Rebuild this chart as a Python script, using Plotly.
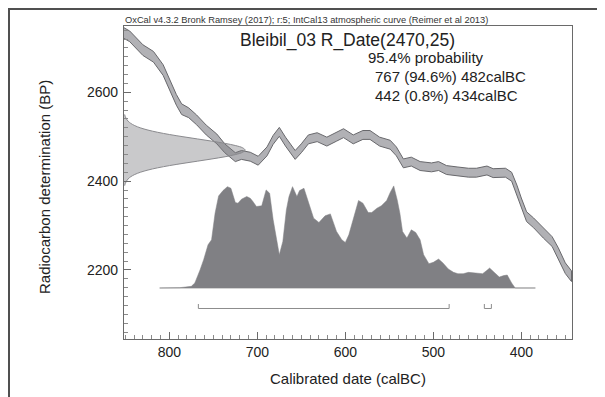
import plotly.graph_objects as go

# ---- data ----
# IntCal13 calibration curve (calBC, BP centre, 1-sigma)
cal_bc = [852, 845, 830, 818, 807, 799, 792, 786, 778, 769, 758, 746, 737, 725, 718, 708, 699, 689, 682, 675,
          668, 657, 650, 642, 632, 621, 610, 602, 591, 580, 572, 561, 549, 542, 534, 525, 515, 502, 494, 485,
          473, 460, 451, 439, 432, 418, 411, 405, 400, 394, 386, 375, 365, 358, 350, 343]
cal_bp = [2734, 2726, 2695, 2680, 2650, 2616, 2583, 2562, 2554, 2538, 2515, 2495, 2474, 2454, 2459, 2455, 2446, 2467, 2493, 2511,
          2489, 2459, 2474, 2494, 2499, 2489, 2500, 2508, 2494, 2504, 2504, 2489, 2482, 2467, 2440, 2444, 2434, 2431, 2434, 2425,
          2422, 2419, 2419, 2424, 2418, 2419, 2410, 2380, 2351, 2320, 2306, 2283, 2264, 2238, 2204, 2186]
cal_err = [12, 12, 12, 12, 12, 12, 12, 12, 11, 11, 11, 11, 10, 10, 10, 10, 10, 10, 10, 10,
           10, 10, 10, 10, 10, 10, 10, 10, 10, 10, 10, 10, 10, 10, 10, 10, 10, 10, 10, 10,
           10, 10, 10, 10, 10, 10, 10, 11, 11, 11, 11, 11, 11, 12, 12, 12]

# Radiocarbon measurement R_Date(2470,25): BP and relative density
meas_bp = [2390, 2395, 2400, 2405, 2410, 2415, 2420, 2425, 2430, 2435, 2440, 2445, 2450, 2455, 2460, 2465, 2470,
           2475, 2480, 2485, 2490, 2495, 2500, 2505, 2510, 2515, 2520, 2525, 2530, 2535, 2540, 2545, 2550]
meas_p = [0.006, 0.011, 0.020, 0.034, 0.056, 0.089, 0.135, 0.198, 0.278, 0.375, 0.487, 0.607, 0.726, 0.835, 0.923, 0.980, 1.0,
          0.980, 0.923, 0.835, 0.726, 0.607, 0.487, 0.375, 0.278, 0.198, 0.135, 0.089, 0.056, 0.034, 0.020, 0.011, 0.006]

# Calibrated probability distribution (calBC, relative probability)
dist_bc = [811, 788, 775, 771, 765, 761, 756, 752, 748, 744, 739, 734, 730, 725, 722, 718, 712, 708, 705, 701,
           695, 690, 686, 682, 678, 675, 671, 667, 664, 660, 655, 652, 647, 642, 636, 630, 623, 617, 614, 610,
           604, 600, 596, 590, 585, 580, 574, 570, 564, 559, 553, 549, 545, 541, 538, 535, 530, 525, 520, 515,
           511, 505, 500, 494, 489, 483, 477, 472, 466, 460, 455, 449, 444, 439, 436, 430, 425, 420, 416, 411,
           407, 384]
dist_p = [0, .003, .016, .049, .179, .277, .423, .472, .733, .902, .954, .993, .977, .837, .831, .870, .896, .879, .847, .798,
          .805, .961, .928, .668, .472, .326, .456, .765, .896, .993, .896, .954, .977, .847, .684, .642, .707, .726, .651, .554,
          .472, .446, .521, .700, .857, .831, .739, .739, .782, .805, .857, .935, 1.0, .863, .733, .554, .489, .570, .544, .472,
          .326, .238, .251, .283, .244, .186, .153, .140, .140, .153, .147, .147, .140, .173, .195, .147, .107, .121, .127, .049,
          0, 0]

# 95.4% ranges (from, to calBC)
range_from = [767, 442]
range_to = [482, 434]

header = "OxCal v4.3.2 Bronk Ramsey (2017); r:5; IntCal13 atmospheric curve (Reimer et al 2013)"
title = "Bleibil_03 R_Date(2470,25)"
prob_lines = ["95.4% probability", "767 (94.6%) 482calBC", "442 (0.8%) 434calBC"]

x_ticks = [800, 700, 600, 500, 400]
y_ticks = [2200, 2400, 2600]

# ---- figure ----
FONT = "Liberation Sans, Arial, sans-serif"
fig = go.Figure()

# calibration band
upper = [c + e for c, e in zip(cal_bp, cal_err)]
lower = [c - e for c, e in zip(cal_bp, cal_err)]
fig.add_trace(go.Scatter(
    x=cal_bc + cal_bc[::-1], y=upper + lower[::-1],
    fill="toself", fillcolor="rgba(100,100,108,0.5)",
    line=dict(color="#68686c", width=1), mode="lines",
    hoverinfo="skip", showlegend=False))

# measurement gaussian on y axis
fig.add_trace(go.Scatter(
    x=meas_p, y=meas_bp, xaxis="x2", yaxis="y",
    fill="tozerox", fillcolor="rgba(120,120,125,0.4)",
    line=dict(color="#8a8a8e", width=1, shape="spline"), mode="lines",
    hoverinfo="skip", showlegend=False))

# calibrated distribution
fig.add_trace(go.Scatter(
    x=[dist_bc[0], dist_bc[-1]], y=[0, 0], xaxis="x", yaxis="y2",
    mode="lines", line=dict(color="#c4c4c4", width=1.5),
    hoverinfo="skip", showlegend=False))
fig.add_trace(go.Scatter(
    x=dist_bc, y=dist_p, xaxis="x", yaxis="y2",
    fill="tozeroy", fillcolor="#808084",
    line=dict(color="#808084", width=0.5), mode="lines",
    hoverinfo="skip", showlegend=False))

# range brackets
lvl, tick_top = -0.201, -0.157
for a, b in zip(range_from, range_to):
    fig.add_trace(go.Scatter(
        x=[a, a, b, b], y=[tick_top, lvl, lvl, tick_top], xaxis="x", yaxis="y2",
        mode="lines", line=dict(color="#8c8c8c", width=1),
        hoverinfo="skip", showlegend=False))

# page body has an 8px margin: figure is drawn 8px right/down of the screen origin
OFF = 8
FIG_W, FIG_H = 605 - OFF, 397 - OFF
L, T, W, H = 124, 26, 448, 313  # plot area in screen pixels

def px(xp):
    return (xp - L) / W

def py(yp):
    return (T + H - yp) / H

Y_RANGE = [2044.6, 2749.3]

fig.update_layout(
    width=FIG_W, height=FIG_H,
    margin=dict(l=L - OFF, r=FIG_W - (L - OFF) - W, t=T - OFF, b=FIG_H - (T - OFF) - H, pad=0),
    paper_bgcolor="white", plot_bgcolor="white",
    font=dict(family=FONT, color="#222222", size=14),
    xaxis=dict(range=[851.5, 342.4], tickvals=x_ticks, ticks="inside", ticklen=7, tickwidth=1,
               tickcolor="#6a6a6a", showgrid=False, zeroline=False,
               showline=True, linecolor="#6a6a6a", linewidth=1.2, mirror=True,
               minor=dict(dtick=10, tick0=0, ticks="inside", ticklen=4, tickcolor="#8a8a8a", showgrid=False),
               tickfont=dict(size=14, color="#222222")),
    yaxis=dict(range=Y_RANGE, tickvals=y_ticks, ticks="inside", ticklen=7, tickwidth=1,
               tickcolor="#6a6a6a", showgrid=False, zeroline=False,
               showline=True, linecolor="#6a6a6a", linewidth=1.2, mirror=True,
               minor=dict(dtick=20, tick0=0, ticks="inside", ticklen=4, tickcolor="#8a8a8a", showgrid=False),
               tickfont=dict(size=14, color="#222222"), ticklabelstandoff=2),
    yaxis3=dict(overlaying="y", anchor="x", side="left", range=Y_RANGE, tickvals=y_ticks,
                ticks="outside", ticklen=4, tickwidth=1, tickcolor="#6a6a6a",
                showticklabels=False, showgrid=False, zeroline=False, showline=False),
    xaxis2=dict(overlaying="x", anchor="y", range=[0, 3.70], visible=False),
    yaxis2=dict(overlaying="y", anchor="x", range=[-0.5, 2.567], visible=False),
)

shapes = [dict(type="rect", xref="paper", yref="paper",
               x0=px(9), x1=px(640), y0=py(9), y1=py(430),
               line=dict(color="#505050", width=2), fillcolor="rgba(0,0,0,0)", layer="below")]
fig.update_layout(shapes=shapes)

ann = []
ann.append(dict(text=header, x=px(123), y=py(20.5), xanchor="left", yanchor="middle",
                font=dict(size=9.3, color="#333333")))
ann.append(dict(text=title, x=px(238), y=py(40.5), xanchor="left", yanchor="middle",
                font=dict(size=17.5, color="#222222")))
ann.append(dict(text=prob_lines[0], x=px(366), y=py(57.5), xanchor="left", yanchor="middle",
                font=dict(size=15, color="#222222")))
ann.append(dict(text=prob_lines[1], x=px(373), y=py(76.5), xanchor="left", yanchor="middle",
                font=dict(size=15, color="#222222")))
ann.append(dict(text=prob_lines[2], x=px(373), y=py(95.5), xanchor="left", yanchor="middle",
                font=dict(size=15, color="#222222")))
ann.append(dict(text="Radiocarbon determination (BP)", x=px(44), y=py(187), textangle=-90,
                xanchor="center", yanchor="middle", font=dict(size=15, color="#222222")))
ann.append(dict(text="Calibrated date (calBC)", x=0.5, y=py(378),
                xanchor="center", yanchor="middle", font=dict(size=15, color="#222222")))
for a in ann:
    a.update(xref="paper", yref="paper", showarrow=False)
fig.update_layout(annotations=ann)

fig.write_html("out.html")
